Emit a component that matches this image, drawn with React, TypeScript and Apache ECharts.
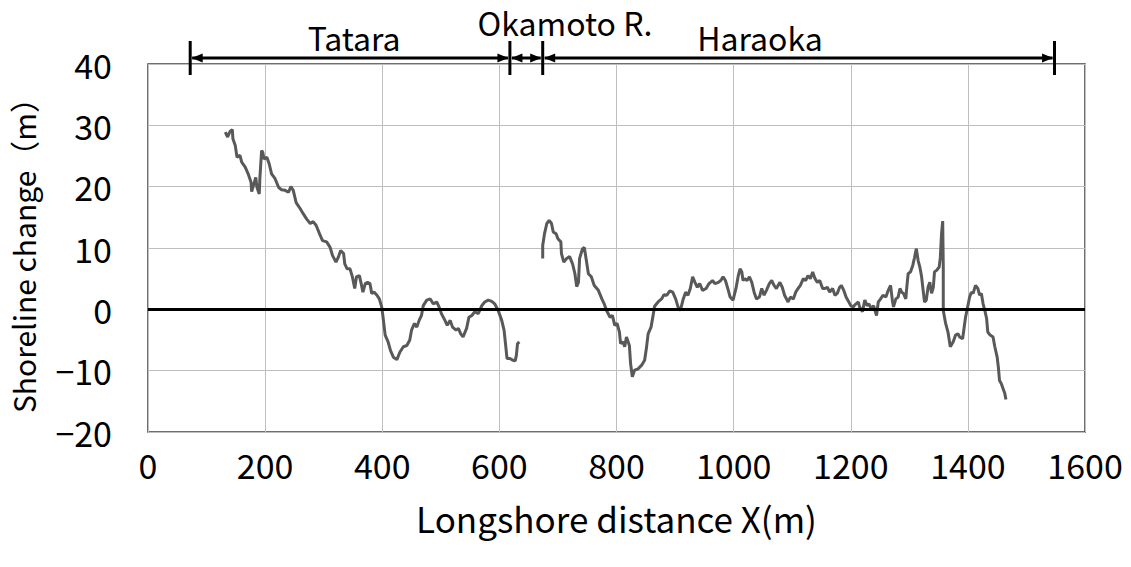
import React, { useEffect, useRef } from "react";
import * as echarts from "echarts";

const FONT = '"Noto Sans CJK JP", "Noto Sans", sans-serif';

const xAxisTitle = "Longshore distance X(m)";
const yAxisTitle = "Shoreline change（m）";

// Shoreline change (x in m, y in m) — Tatara reach
const tatara: [number, number][] = [
  [132, 28.9], [136, 28.1], [140, 29.0], [144, 29.3], [145, 27.8], [149, 26.7], [152, 24.8], [157, 25.1],
  [160, 24.0], [166, 23.2], [171, 22.1], [176, 20.7], [177, 19.2], [181, 20.5], [184, 21.5], [186, 19.9],
  [190, 18.8], [191, 21.3], [194, 25.9], [196, 25.6], [198, 24.5], [203, 24.8], [207, 23.7], [211, 22.1],
  [217, 21.3], [223, 19.9], [228, 19.5], [234, 19.4], [240, 19.1], [244, 20.0], [248, 19.4], [253, 17.4],
  [260, 16.4], [265, 15.6], [271, 14.7], [277, 14.0], [282, 14.3], [287, 13.7], [293, 12.3], [298, 11.2],
  [305, 11.0], [311, 10.1], [315, 8.8], [321, 7.7], [325, 8.5], [329, 9.6], [334, 9.1], [336, 7.4],
  [340, 6.6], [345, 6.6], [349, 5.3], [353, 3.4], [356, 5.3], [361, 5.5], [364, 4.2], [367, 2.8],
  [371, 4.2], [375, 4.4], [379, 4.2], [382, 2.6], [386, 2.8], [391, 2.3], [395, 1.7], [399, 0.4],
  [401, -1.0], [405, -4.2], [410, -5.3], [414, -6.7], [419, -7.8], [425, -8.2], [430, -7.0], [436, -6.1],
  [442, -5.9], [447, -5.0], [450, -3.4], [455, -2.3], [459, -2.9], [463, -1.8], [467, -1.0], [470, 0.6],
  [476, 1.5], [482, 1.7], [487, 0.9], [493, 1.2], [497, 0.4], [501, -0.7], [507, -1.8], [511, -2.6],
  [516, -1.8], [520, -2.9], [526, -3.4], [530, -3.1], [534, -4.0], [538, -4.5], [544, -3.1], [548, -1.3],
  [553, -1.0], [558, -0.4], [564, -0.7], [570, 0.6], [575, 1.2], [581, 1.5], [587, 1.3], [592, 0.9],
  [598, -0.2], [604, -1.8], [608, -3.4], [611, -6.1], [613, -8.0], [618, -8.0], [623, -8.3], [627, -8.4],
  [629, -7.5], [631, -5.6], [634, -5.3],
];

// Haraoka reach
const haraoka: [number, number][] = [
  [674, 8.3], [674, 10.4], [677, 12.3], [681, 14.0], [685, 14.5], [689, 14.0], [692, 12.6], [697, 12.3],
  [700, 11.5], [705, 11.0], [706, 9.1], [710, 7.7], [715, 8.3], [720, 8.6], [725, 7.4], [729, 5.8],
  [732, 3.7], [735, 4.4], [737, 8.3], [742, 9.9], [745, 10.1], [748, 8.3], [752, 5.8], [757, 5.3],
  [762, 3.9], [769, 3.1], [775, 1.7], [779, 0.9], [783, -0.2], [789, -1.3], [793, -1.0], [797, -2.6],
  [801, -2.3], [805, -3.7], [807, -5.6], [811, -5.3], [814, -6.1], [817, -4.5], [822, -5.9], [824, -8.8],
  [827, -11.0], [831, -9.9], [837, -9.7], [843, -9.1], [848, -8.3], [851, -6.4], [854, -4.0], [859, -2.9],
  [863, -0.7], [865, 0.5], [871, 1.2], [877, 1.7], [881, 2.4], [886, 2.3], [891, 3.0], [896, 2.8],
  [901, 1.7], [905, 0.4], [909, -0.2], [914, 1.7], [918, 2.8], [922, 2.3], [926, 3.4], [930, 5.3],
  [934, 4.4], [938, 3.6], [942, 4.2], [947, 3.1], [953, 3.4], [958, 4.2], [964, 4.7], [968, 4.2],
  [974, 4.4], [978, 4.7], [982, 5.3], [986, 4.7], [990, 3.4], [994, 2.0], [999, 1.5], [1004, 3.4],
  [1008, 5.5], [1011, 6.6], [1014, 6.1], [1016, 4.7], [1019, 5.0], [1023, 4.7], [1027, 5.3], [1031, 4.4],
  [1035, 2.8], [1039, 1.7], [1044, 2.0], [1048, 3.4], [1052, 2.3], [1056, 3.1], [1061, 4.2], [1065, 4.7],
  [1069, 3.9], [1073, 3.4], [1079, 4.4], [1083, 3.6], [1087, 2.3], [1093, 1.2], [1097, 2.0], [1102, 1.7],
  [1106, 2.8], [1110, 3.4], [1114, 3.9], [1119, 5.0], [1123, 4.7], [1127, 5.5], [1131, 5.0], [1135, 6.1],
  [1139, 5.0], [1143, 4.4], [1147, 4.7], [1152, 3.4], [1156, 3.4], [1160, 3.6], [1164, 2.8], [1169, 3.4],
  [1173, 2.3], [1177, 2.6], [1181, 3.6], [1184, 3.9], [1188, 3.1], [1192, 2.0], [1195, 1.5], [1200, 0.6],
  [1204, 0.4], [1209, 0.9], [1213, 1.2], [1215, 0.4], [1220, -0.4], [1224, 1.5], [1228, 0.6], [1231, 0.9],
  [1235, 0.1], [1239, 0.6], [1244, -1.0], [1247, 1.2], [1251, 1.7], [1255, 2.3], [1260, 2.0], [1264, 3.1],
  [1268, 3.9], [1271, 1.5], [1273, 0.4], [1277, 1.7], [1281, 2.0], [1284, 3.4], [1287, 2.8], [1290, 2.6],
  [1294, 1.7], [1296, 3.9], [1298, 5.8], [1302, 6.1], [1306, 7.2], [1309, 8.5], [1312, 9.9], [1315, 8.0],
  [1318, 6.9], [1321, 5.3], [1323, 3.6], [1326, 1.2], [1329, 1.5], [1332, 3.6], [1335, 4.4], [1338, 2.6],
  [1341, 3.6], [1343, 6.1], [1347, 6.4], [1351, 6.9], [1353, 8.5], [1355, 12.3], [1357, 14.4], [1358, 6.9],
  [1358, -0.2], [1362, -2.3], [1366, -3.7], [1370, -6.1], [1375, -5.3], [1379, -4.2], [1383, -4.0], [1386, -4.5],
  [1391, -4.8], [1393, -3.4], [1396, -1.3], [1399, 0.1], [1403, 2.0], [1406, 2.8], [1409, 2.6], [1413, 3.9],
  [1417, 3.4], [1420, 2.3], [1423, 2.6], [1426, 0.9], [1429, -0.2], [1432, -1.5], [1434, -3.7], [1438, -4.2],
  [1443, -4.5], [1446, -6.1], [1450, -7.8], [1452, -9.4], [1454, -11.6], [1457, -12.1], [1460, -12.9], [1463, -13.7],
  [1465, -14.7],
];

// Reach annotations (longshore extents in m) and label anchor positions
const reachNames = ["Tatara", "Okamoto R.", "Haraoka"];
const reachStarts = [72, 618, 674];
const reachEnds = [618, 674, 1548];
const reachLabelX = [352, 712, 1045];

const fmtNum = (v: number) => (v < 0 ? "−" + Math.abs(v) : String(v));

export default function App() {
  const ref = useRef<HTMLDivElement>(null);

  useEffect(() => {
    if (!ref.current) return;
    const chart = echarts.init(ref.current, undefined, { renderer: "svg" });
    const lineColor = "#595959";
    const option: any = {
      animation: false,
      backgroundColor: "#ffffff",
      grid: {
        left: 148,
        right: 46,
        top: 64,
        bottom: 135,
        show: true,
        borderColor: "#404040",
        borderWidth: 1.5,
      },
      xAxis: {
        type: "value",
        min: 0,
        max: 1600,
        interval: 200,
        name: xAxisTitle,
        nameLocation: "middle",
        nameGap: 68,
        nameTextStyle: { fontFamily: FONT, fontSize: 35, color: "#000" },
        axisLine: { show: false },
        axisTick: { show: false },
        axisLabel: { fontFamily: FONT, fontSize: 34, color: "#000", margin: 15, formatter: fmtNum },
        splitLine: { show: true, lineStyle: { color: "#bfbfbf", width: 1 } },
      },
      yAxis: {
        type: "value",
        min: -20,
        max: 40,
        interval: 10,
        name: yAxisTitle,
        nameLocation: "middle",
        nameRotate: 90,
        nameGap: 110,
        nameTextStyle: { fontFamily: FONT, fontSize: 30, color: "#000" },
        axisLine: { show: false },
        axisTick: { show: false },
        axisLabel: { fontFamily: FONT, fontSize: 34, color: "#000", margin: 36, formatter: fmtNum },
        splitLine: { show: true, lineStyle: { color: "#bfbfbf", width: 1 } },
      },
      series: [
        {
          type: "line",
          name: "Tatara",
          data: tatara,
          showSymbol: false,
          lineStyle: { color: lineColor, width: 3 },
          markLine: {
            silent: true,
            symbol: "none",
            label: { show: false },
            lineStyle: { color: "#000", width: 3, type: "solid" },
            data: [{ yAxis: 0 }],
          },
          z: 3,
        },
        {
          type: "line",
          name: "Haraoka",
          data: haraoka,
          showSymbol: false,
          lineStyle: { color: lineColor, width: 3 },
          z: 3,
        },
      ],
    };
    chart.setOption(option);

    // Build reach arrows from data coordinates
    const toPx = (x: number) => chart.convertToPixel({ gridIndex: 0 }, [x, 40]) as number[];
    const top = toPx(0)[1];
    const ay = top - 6;
    const elements: any[] = [];
    const tickXs = new Set<number>();
    const headLen = 11;
    const headHalf = 4.5;
    reachNames.forEach((name, i) => {
      const x1 = toPx(reachStarts[i])[0];
      const x2 = toPx(reachEnds[i])[0];
      tickXs.add(Math.round(x1 * 10) / 10);
      tickXs.add(Math.round(x2 * 10) / 10);
      elements.push({
        type: "line",
        shape: { x1: x1 + 2, y1: ay, x2: x2 - 2, y2: ay },
        style: { stroke: "#000", lineWidth: 3 },
        silent: true,
      });
      elements.push({
        type: "polygon",
        shape: { points: [[x1 + 1.5, ay], [x1 + 1.5 + headLen, ay - headHalf], [x1 + 1.5 + headLen, ay + headHalf]] },
        style: { fill: "#000" },
        silent: true,
      });
      elements.push({
        type: "polygon",
        shape: { points: [[x2 - 1.5, ay], [x2 - 1.5 - headLen, ay - headHalf], [x2 - 1.5 - headLen, ay + headHalf]] },
        style: { fill: "#000" },
        silent: true,
      });
      const lx = toPx(reachLabelX[i])[0];
      const isMid = i === 1;
      elements.push({
        type: "text",
        x: lx,
        y: isMid ? 22 : 37,
        style: {
          text: name,
          fontFamily: FONT,
          fontSize: 32,
          fill: "#000",
          align: "center",
          verticalAlign: "middle",
        },
        silent: true,
      });
    });
    tickXs.forEach((tx) => {
      elements.push({
        type: "line",
        shape: { x1: tx, y1: ay - 17, x2: tx, y2: ay + 17 },
        style: { stroke: "#000", lineWidth: 3 },
        silent: true,
      });
    });
    chart.setOption({ graphic: elements });

    return () => chart.dispose();
  }, []);

  return (
    <div
      ref={ref}
      style={{ position: "fixed", left: 0, top: 0, width: 1131, height: 567, background: "#fff" }}
    />
  );
}
